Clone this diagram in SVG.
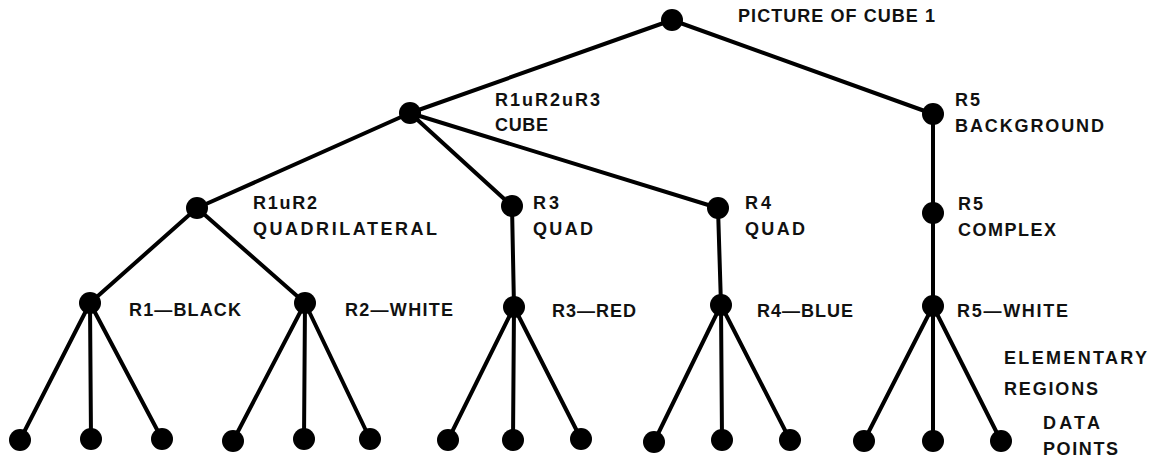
<svg xmlns="http://www.w3.org/2000/svg" width="1161" height="463" viewBox="0 0 1161 463">
  <style>
    .edge { stroke: #000; stroke-width: 4; stroke-linecap: round; fill: none; }
    .dot { fill: #000; }
    .lbl { font-family: "Liberation Sans", Arial, sans-serif; font-weight: bold; font-size: 18px; fill: #111; }
  </style>
  <rect width="1161" height="463" fill="#fff"/>

  <g id="connectors">
    <line class="edge" x1="672" y1="20" x2="410" y2="113"/>
    <line class="edge" x1="672" y1="20" x2="933" y2="114"/>
    <line class="edge" x1="410" y1="113" x2="197" y2="208"/>
    <line class="edge" x1="410" y1="113" x2="512" y2="206"/>
    <line class="edge" x1="410" y1="113" x2="718" y2="208"/>
    <line class="edge" x1="933" y1="114" x2="933" y2="213"/>
    <line class="edge" x1="197" y1="208" x2="90" y2="303"/>
    <line class="edge" x1="197" y1="208" x2="305" y2="303"/>
    <line class="edge" x1="512" y1="206" x2="514" y2="307"/>
    <line class="edge" x1="718" y1="208" x2="721" y2="305"/>
    <line class="edge" x1="933" y1="213" x2="933" y2="306"/>
    <!-- elementary regions to data points -->
    <line class="edge" x1="90" y1="303" x2="20" y2="440"/>
    <line class="edge" x1="90" y1="303" x2="91" y2="439"/>
    <line class="edge" x1="90" y1="303" x2="162" y2="439"/>
    <line class="edge" x1="305" y1="303" x2="233" y2="441"/>
    <line class="edge" x1="305" y1="303" x2="304" y2="439"/>
    <line class="edge" x1="305" y1="303" x2="370" y2="439"/>
    <line class="edge" x1="514" y1="307" x2="448" y2="440"/>
    <line class="edge" x1="514" y1="307" x2="513" y2="440"/>
    <line class="edge" x1="514" y1="307" x2="581" y2="439"/>
    <line class="edge" x1="721" y1="305" x2="654" y2="442"/>
    <line class="edge" x1="721" y1="305" x2="722" y2="440"/>
    <line class="edge" x1="721" y1="305" x2="790" y2="440"/>
    <line class="edge" x1="933" y1="306" x2="864" y2="441"/>
    <line class="edge" x1="933" y1="306" x2="933" y2="441"/>
    <line class="edge" x1="933" y1="306" x2="1001" y2="441"/>
  </g>

  <g id="root">
    <circle class="dot" cx="672" cy="20" r="11"/>
    <text class="lbl" x="738" y="22" textLength="197" lengthAdjust="spacing">PICTURE OF CUBE 1</text>
  </g>
  <g id="cube">
    <circle class="dot" cx="410" cy="113" r="11"/>
    <text class="lbl" x="495" y="106" textLength="105" lengthAdjust="spacing">R1uR2uR3</text>
    <text class="lbl" x="495" y="131" textLength="53" lengthAdjust="spacing">CUBE</text>
  </g>
  <g id="background">
    <circle class="dot" cx="933" cy="114" r="11"/>
    <text class="lbl" x="955" y="106" textLength="25" lengthAdjust="spacing">R5</text>
    <text class="lbl" x="955" y="132" textLength="149" lengthAdjust="spacing">BACKGROUND</text>
  </g>
  <g id="quadrilateral">
    <circle class="dot" cx="197" cy="208" r="11"/>
    <text class="lbl" x="253" y="209" textLength="64" lengthAdjust="spacing">R1uR2</text>
    <text class="lbl" x="253" y="235" textLength="184" lengthAdjust="spacing">QUADRILATERAL</text>
  </g>
  <g id="r3-quad">
    <circle class="dot" cx="512" cy="206" r="11"/>
    <text class="lbl" x="533" y="209" textLength="26" lengthAdjust="spacing">R3</text>
    <text class="lbl" x="533" y="235" textLength="60" lengthAdjust="spacing">QUAD</text>
  </g>
  <g id="r4-quad">
    <circle class="dot" cx="718" cy="208" r="11"/>
    <text class="lbl" x="745" y="209" textLength="26" lengthAdjust="spacing">R4</text>
    <text class="lbl" x="745" y="235" textLength="60" lengthAdjust="spacing">QUAD</text>
  </g>
  <g id="complex">
    <circle class="dot" cx="933" cy="213" r="11"/>
    <text class="lbl" x="958" y="210" textLength="25" lengthAdjust="spacing">R5</text>
    <text class="lbl" x="958" y="236" textLength="98" lengthAdjust="spacing">COMPLEX</text>
  </g>
  <g id="r1-black">
    <circle class="dot" cx="90" cy="303" r="11"/>
    <text class="lbl" x="129" y="316" textLength="112" lengthAdjust="spacing">R1—BLACK</text>
  </g>
  <g id="r2-white">
    <circle class="dot" cx="305" cy="303" r="11"/>
    <text class="lbl" x="345" y="316" textLength="108" lengthAdjust="spacing">R2—WHITE</text>
  </g>
  <g id="r3-red">
    <circle class="dot" cx="514" cy="307" r="11"/>
    <text class="lbl" x="552" y="317" textLength="84" lengthAdjust="spacing">R3—RED</text>
  </g>
  <g id="r4-blue">
    <circle class="dot" cx="721" cy="305" r="11"/>
    <text class="lbl" x="757" y="317" textLength="96" lengthAdjust="spacing">R4—BLUE</text>
  </g>
  <g id="r5-white">
    <circle class="dot" cx="933" cy="306" r="11"/>
    <text class="lbl" x="957" y="317" textLength="111" lengthAdjust="spacing">R5—WHITE</text>
  </g>
  <g id="level-legend">
    <text class="lbl" x="1004" y="364" textLength="143" lengthAdjust="spacing">ELEMENTARY</text>
    <text class="lbl" x="1004" y="395" textLength="94" lengthAdjust="spacing">REGIONS</text>
    <text class="lbl" x="1043" y="429" textLength="57" lengthAdjust="spacing">DATA</text>
    <text class="lbl" x="1043" y="455" textLength="75" lengthAdjust="spacing">POINTS</text>
  </g>
  <g id="data-points">
    <circle class="dot" cx="20" cy="440" r="11"/>
    <circle class="dot" cx="91" cy="439" r="11"/>
    <circle class="dot" cx="162" cy="439" r="11"/>
    <circle class="dot" cx="233" cy="441" r="11"/>
    <circle class="dot" cx="304" cy="439" r="11"/>
    <circle class="dot" cx="370" cy="439" r="11"/>
    <circle class="dot" cx="448" cy="440" r="11"/>
    <circle class="dot" cx="513" cy="440" r="11"/>
    <circle class="dot" cx="581" cy="439" r="11"/>
    <circle class="dot" cx="654" cy="442" r="11"/>
    <circle class="dot" cx="722" cy="440" r="11"/>
    <circle class="dot" cx="790" cy="440" r="11"/>
    <circle class="dot" cx="864" cy="441" r="11"/>
    <circle class="dot" cx="933" cy="441" r="11"/>
    <circle class="dot" cx="1001" cy="441" r="11"/>
  </g>
</svg>
